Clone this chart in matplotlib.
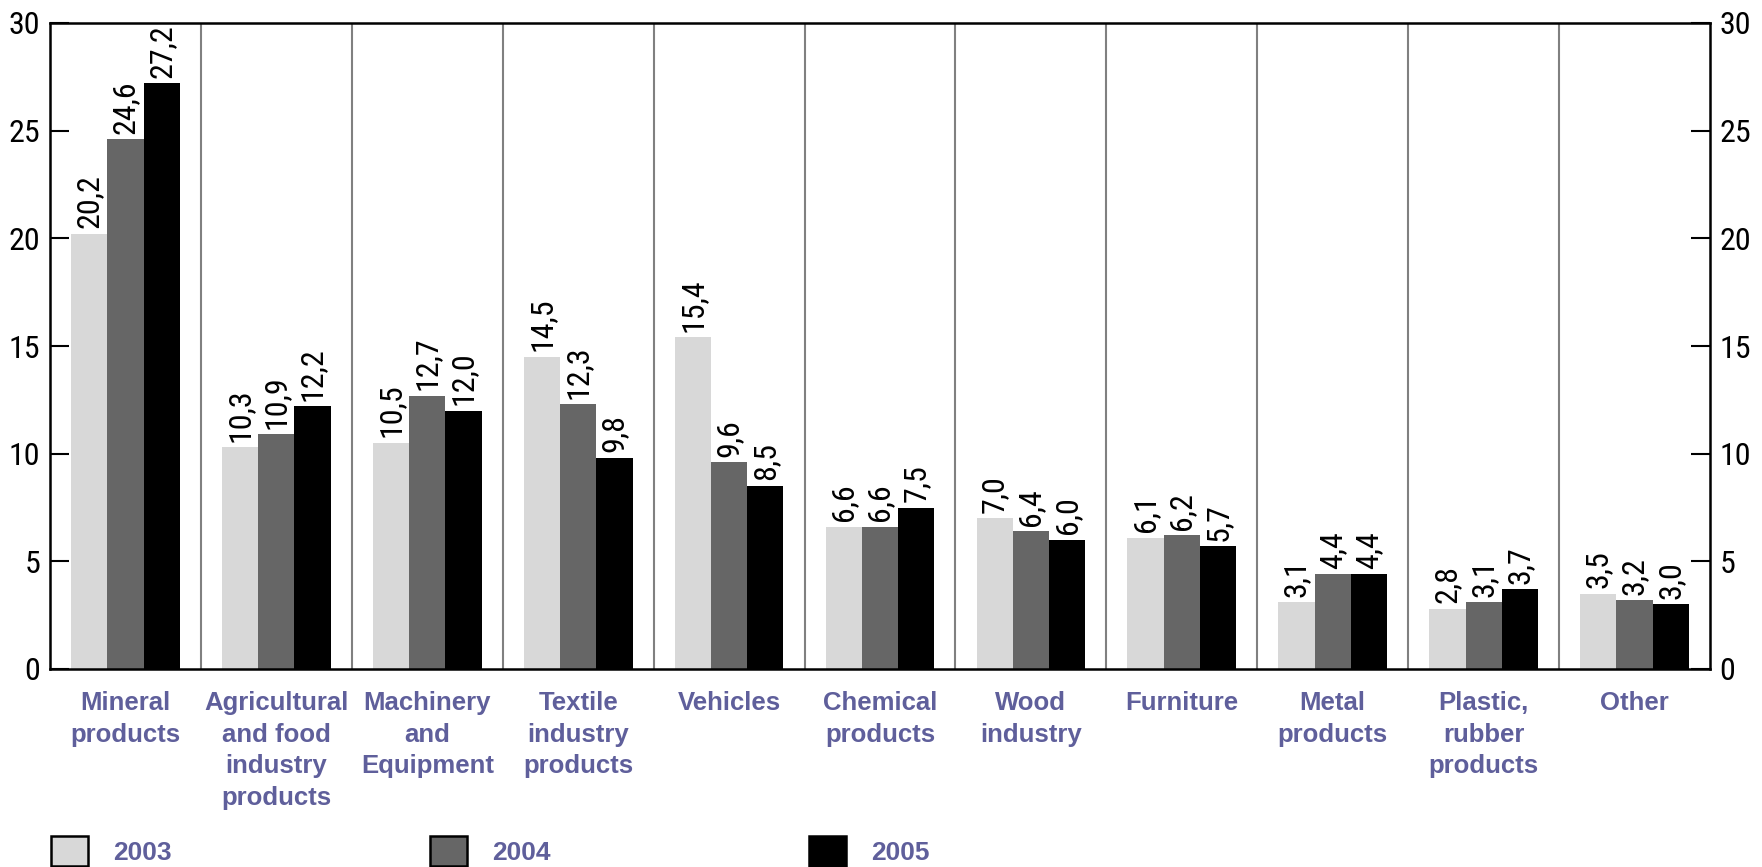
import matplotlib
matplotlib.use('Agg')
import matplotlib.pyplot as plt
import numpy as np
from matplotlib import font_manager as fm
from matplotlib.patches import Patch

categories = ['Mineral\nproducts', 'Agricultural\nand food\nindustry\nproducts',
              'Machinery\nand\nEquipment', 'Textile\nindustry\nproducts', 'Vehicles',
              'Chemical\nproducts', 'Wood\nindustry', 'Furniture', 'Metal\nproducts',
              'Plastic,\nrubber\nproducts', 'Other']
years = ['2003', '2004', '2005']
v2003 = [20.2, 10.3, 10.5, 14.5, 15.4, 6.6, 7.0, 6.1, 3.1, 2.8, 3.5]
v2004 = [24.6, 10.9, 12.7, 12.3, 9.6, 6.6, 6.4, 6.2, 4.4, 3.1, 3.2]
v2005 = [27.2, 12.2, 12.0, 9.8, 8.5, 7.5, 6.0, 5.7, 4.4, 3.7, 3.0]
yticks = [0, 5, 10, 15, 20, 25, 30]

colors = ['#d8d8d8', '#666666', '#000000']
label_color = '#5f5f9b'

# pick a condensed face for the numbers
installed = {f.name for f in fm.fontManager.ttflist}
narrow_name = next((n for n in ['Roboto Condensed', 'PT Sans Narrow', 'Archivo Narrow',
                                'Liberation Sans Narrow', 'Arimo', 'Liberation Sans']
                    if n in installed), 'DejaVu Sans')
narrow = [narrow_name, 'DejaVu Sans']
bold = ['Liberation Sans', 'Arimo', 'DejaVu Sans']
num_size = 23

fig = plt.figure(figsize=(17.62, 8.67), dpi=100)
ax = fig.add_axes([50 / 1762, 1 - 669 / 867, 1660 / 1762, 646 / 867])

x = np.arange(len(categories))
w = 0.24
for i, vals in enumerate([v2003, v2004, v2005]):
    bars = ax.bar(x + (i - 1) * w, vals, width=w, color=colors[i], edgecolor='none', zorder=2)
    for b, v in zip(bars, vals):
        ax.annotate(f'{v:.1f}'.replace('.', ','),
                    (b.get_x() + b.get_width() / 2, v),
                    xytext=(0, 4), textcoords='offset points',
                    rotation=90, ha='center', va='bottom',
                    fontsize=num_size, family=narrow)

# gray separators between groups
for s in np.arange(0.5, len(categories) - 1, 1.0):
    ax.axvline(s, color='#808080', lw=1.5, zorder=1)

ax.set_xlim(-0.5, len(categories) - 0.5)
ax.set_ylim(0, 30)
ax.set_yticks(yticks)
ax.set_xticks([])
ax.tick_params(axis='y', direction='in', length=14, width=1.5, right=True,
               labelright=True, labelsize=num_size, pad=7)
for t in ax.yaxis.get_major_ticks():
    t.label1.set_family(narrow)
    t.label2.set_family(narrow)
for sp in ax.spines.values():
    sp.set_linewidth(1.8)

# category names under the axis
for xi, name in zip(x, categories):
    ax.annotate(name, (xi, 0), xytext=(0, -16), textcoords='offset points',
                ha='center', va='top', fontsize=18.5, fontweight='bold',
                family=bold, color=label_color,
                linespacing=1.4, annotation_clip=False)

handles = [Patch(facecolor=c, edgecolor='black', linewidth=1.8) for c in colors]
leg = fig.legend(handles, years, ncol=3, loc='center left',
                 bbox_to_anchor=(27 / 1762, 1 - 851 / 867), frameon=False,
                 handlelength=1.4, handleheight=1.35, handletextpad=0.95,
                 columnspacing=9.8,
                 prop={'family': bold, 'weight': 'bold', 'size': 19})
for t in leg.get_texts():
    t.set_color(label_color)

fig.savefig('out.png', dpi=100)
